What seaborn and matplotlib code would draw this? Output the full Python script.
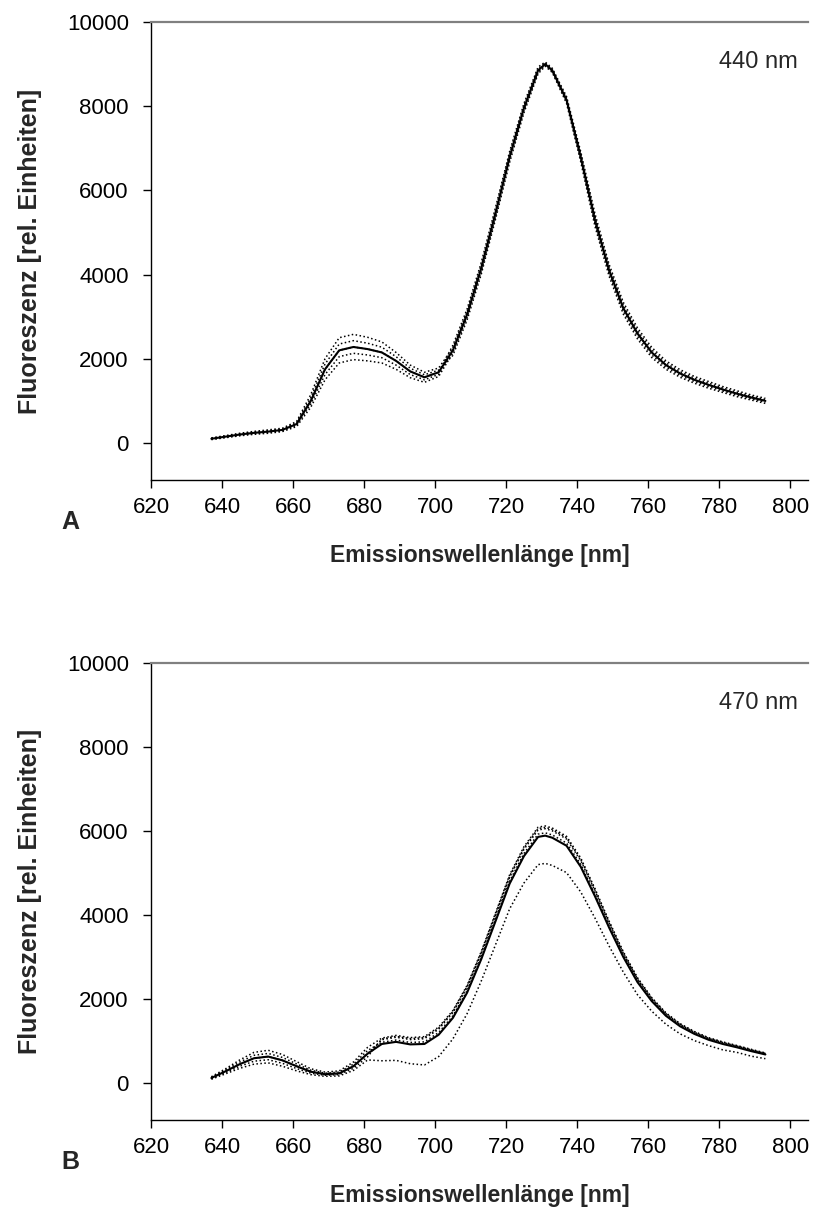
import numpy as np
import pandas as pd
import matplotlib
matplotlib.use("Agg")
import matplotlib.pyplot as plt
import seaborn as sns

# Emission wavelengths (nm)
wavelengths = [637, 641, 645, 649, 653, 657, 661, 665, 669, 673,
               677, 681, 685, 689, 693, 697, 701, 705, 709, 713,
               717, 721, 725, 729, 731, 733, 737, 741, 745, 749, 753,
               757, 761, 765, 769, 773, 777, 781, 785, 789, 793]

# Excitation at 440 nm: individual replicate spectra
exc440_rep1 = [120, 175, 230, 275, 310, 350, 510, 1150, 2000, 2500,
               2580, 2510, 2400, 2150, 1850, 1680, 1780, 2260, 3115, 4220,
               5520, 6865, 8005, 8890, 9025, 8875, 8190, 6860, 5375, 4170, 3270,
               2665, 2210, 1900, 1695, 1540, 1420, 1305, 1205, 1110, 1030]
exc440_rep2 = [110, 162, 215, 258, 290, 330, 480, 1075, 1875, 2350,
               2430, 2370, 2275, 2050, 1775, 1620, 1730, 2080, 2920, 4010,
               5310, 6670, 7840, 8770, 8950, 8800, 8070, 6680, 5150, 3960, 3060,
               2470, 2030, 1750, 1560, 1420, 1300, 1200, 1100, 1020, 940]
exc440_rep3 = [100, 150, 200, 240, 270, 310, 450, 1000, 1750, 2200,
               2280, 2230, 2150, 1950, 1700, 1560, 1680, 2320, 3180, 4290,
               5590, 6930, 8060, 8930, 9050, 8900, 8230, 6920, 5450, 4240, 3340,
               2730, 2270, 1950, 1740, 1580, 1460, 1340, 1240, 1140, 1060]
exc440_rep4 = [90, 138, 185, 222, 250, 290, 420, 925, 1625, 2050,
               2130, 2090, 2025, 1850, 1625, 1500, 1630, 2200, 3050, 4150,
               5450, 6800, 7950, 8850, 9000, 8850, 8150, 6800, 5300, 4100, 3200,
               2600, 2150, 1850, 1650, 1500, 1380, 1270, 1170, 1080, 1000]
exc440_rep5 = [80, 125, 170, 205, 230, 270, 390, 850, 1500, 1900,
               1980, 1950, 1900, 1750, 1550, 1440, 1580, 2140, 2985, 4080,
               5380, 6735, 7895, 8810, 8975, 8825, 8110, 6740, 5225, 4030, 3130,
               2535, 2090, 1800, 1605, 1460, 1340, 1235, 1135, 1050, 970]

# Excitation at 470 nm: individual replicate spectra
exc470_rep1 = [150, 340, 550, 730, 780, 680, 510, 340, 260, 290,
               500, 850, 1070, 1134, 1081, 1105, 1332, 1725, 2325, 3132,
               4046, 4960, 5624, 6091, 6121, 6071, 5874, 5360, 4632, 3854, 3126,
               2505, 2034, 1670, 1413, 1226, 1079, 979, 892, 802, 715]
exc470_rep2 = [135, 310, 500, 660, 705, 610, 455, 305, 235, 260,
               450, 775, 970, 1024, 966, 980, 1202, 1600, 2200, 3002,
               3906, 4810, 5464, 5926, 5956, 5906, 5714, 5210, 4502, 3744, 3036,
               2430, 1974, 1620, 1368, 1186, 1044, 944, 862, 772, 690]
exc470_rep3 = [120, 280, 450, 590, 630, 540, 400, 270, 210, 230,
               400, 700, 1030, 1090, 1035, 1055, 1280, 1675, 2275, 3080,
               3990, 4900, 5560, 6025, 6055, 6005, 5810, 5300, 4580, 3810, 3090,
               2475, 2010, 1650, 1395, 1210, 1065, 965, 880, 790, 705]
exc470_rep4 = [105, 250, 400, 520, 555, 470, 345, 235, 185, 200,
               350, 625, 1050, 1112, 1058, 1080, 1306, 1700, 2300, 3106,
               4018, 4930, 5592, 6058, 6088, 6038, 5842, 5330, 4606, 3832, 3108,
               2490, 2022, 1660, 1404, 1218, 1072, 972, 886, 796, 710]
exc470_rep5 = [90, 220, 350, 450, 480, 400, 290, 200, 160, 170,
               300, 550, 530, 540, 460, 430, 630, 1050, 1650, 2430,
               3290, 4150, 4760, 5200, 5230, 5180, 5010, 4550, 3930, 3260, 2640,
               2100, 1710, 1400, 1170, 1010, 890, 790, 730, 640, 580]

x_ticks = [620, 640, 660, 680, 700, 720, 740, 760, 780, 800]
y_ticks = [0, 2000, 4000, 6000, 8000, 10000]

panels = [
    ("A", "440 nm", [exc440_rep1, exc440_rep2, exc440_rep3, exc440_rep4, exc440_rep5]),
    ("B", "470 nm", [exc470_rep1, exc470_rep2, exc470_rep3, exc470_rep4, exc470_rep5]),
]

sns.set_style("ticks")
plt.rcParams["font.family"] = ["Liberation Sans", "DejaVu Sans"]

W, H = 821, 1212
fig = plt.figure(figsize=(W / 100, H / 100), dpi=100)

# axes boxes in pixels: (left, top, right, bottom)
boxes = [(151, 22, 808, 480), (151, 663, 808, 1120)]

for (letter, exc_label, reps), (l, t, r, b) in zip(panels, boxes):
    ax = fig.add_axes([l / W, 1 - b / H, (r - l) / W, (b - t) / H])
    frames = []
    for i, rep in enumerate(reps):
        frames.append(pd.DataFrame({"wl": wavelengths, "val": rep, "rep": i + 1}))
    df = pd.concat(frames, ignore_index=True)

    sns.lineplot(data=df, x="wl", y="val", units="rep", estimator=None,
                 color="black", linestyle=(0, (1, 1.6)), linewidth=1.1, ax=ax)
    sns.lineplot(data=df, x="wl", y="val", estimator="mean", errorbar=None,
                 color="black", linewidth=1.5, ax=ax)

    ax.set_xlim(620, 805)
    ax.set_ylim(-880, 10000)
    ax.set_xticks(x_ticks)
    ax.set_yticks(y_ticks)
    ax.tick_params(axis="both", direction="out", length=6, width=1,
                   labelsize=16, colors="black")
    ax.tick_params(axis="y", pad=10)
    ax.tick_params(axis="x", pad=6)
    for side in ("left", "bottom"):
        ax.spines[side].set_color("black")
        ax.spines[side].set_linewidth(1)
    ax.spines["right"].set_visible(False)
    ax.spines["top"].set_color("#808080")
    ax.spines["top"].set_linewidth(1.6)

    ax.set_xlabel("Emissionswellenlänge [nm]", fontsize=16.5, fontweight="bold")
    ax.set_ylabel("Fluoreszenz [rel. Einheiten]", fontsize=18, fontweight="bold")
    ax.xaxis.set_label_coords(0.5, -0.14)
    ax.yaxis.set_label_coords(-0.166, 0.5)

    ax.text(780, 9050, exc_label, fontsize=17, ha="left", va="center")
    fig.text(70 / W, 1 - (b + 42) / H, letter, fontsize=18, fontweight="bold",
             ha="center", va="center")

fig.savefig("out.png", dpi=100)
